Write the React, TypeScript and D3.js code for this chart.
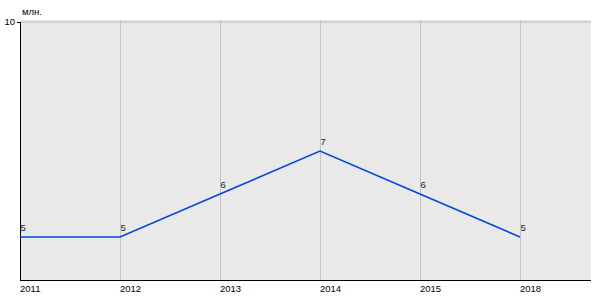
import React from "react";
import * as d3 from "d3";

const years = ["2011", "2012", "2013", "2014", "2015", "2018"];
const values = [5, 5, 6, 7, 6, 5];
const yTicks = [10];
const unitLabel = "млн.";

export default function App() {
  const W = 600, H = 300;
  const left = 20, right = 591, top = 20, bottom = 280;
  const x = d3.scalePoint<string>().domain(years).range([20, 520]);
  const y = d3.scaleLinear().domain([4, 10]).range([280, 22]);
  const line = d3
    .line<number>()
    .x((_, i) => x(years[i]) as number)
    .y((d) => y(d));
  const font = "Liberation Sans, Arial, sans-serif";
  return (
    <svg
      width={W}
      height={H}
      style={{ position: "absolute", left: 0, top: 0 }}
      fontFamily={font}
      fontSize={9.5}
    >
      <rect x={0} y={0} width={W} height={H} fill="#fff" />
      <rect x={left} y={top} width={right - left} height={bottom - top} fill="#e9e9e9" />
      {yTicks.map((t) => (
        <line key={t} x1={left} x2={right} y1={y(t)} y2={y(t)} stroke="#c8c8c8" strokeWidth={1.5} />
      ))}
      {years.slice(1).map((yr) => (
        <line
          key={yr}
          x1={(x(yr) as number) + 0.5}
          x2={(x(yr) as number) + 0.5}
          y1={top}
          y2={bottom}
          stroke="#c4c4c4"
          strokeWidth={1}
        />
      ))}
      <line x1={left + 0.5} x2={left + 0.5} y1={y(10)} y2={bottom} stroke="#000" strokeWidth={1} />
      <line x1={left} x2={right} y1={bottom + 0.5} y2={bottom + 0.5} stroke="#000" strokeWidth={1} />
      {yTicks.map((t) => (
        <g key={t}>
          <line x1={17} x2={left} y1={y(t) + 0.5} y2={y(t) + 0.5} stroke="#000" />
          <text x={15} y={y(t) + 3} textAnchor="end" fill="#000">
            {t}
          </text>
        </g>
      ))}
      <text x={22} y={15} fill="#000">
        {unitLabel}
      </text>
      {years.map((yr) => (
        <text key={yr} x={x(yr) as number} y={292} fill="#000">
          {yr}
        </text>
      ))}
      <path d={line(values) || ""} fill="none" stroke="#0047e0" strokeWidth={1.6} />
      {values.map((v, i) => (
        <text key={i} x={(x(years[i]) as number) + 0.5} y={y(v) - 6} fill="#222">
          {v}
        </text>
      ))}
    </svg>
  );
}
